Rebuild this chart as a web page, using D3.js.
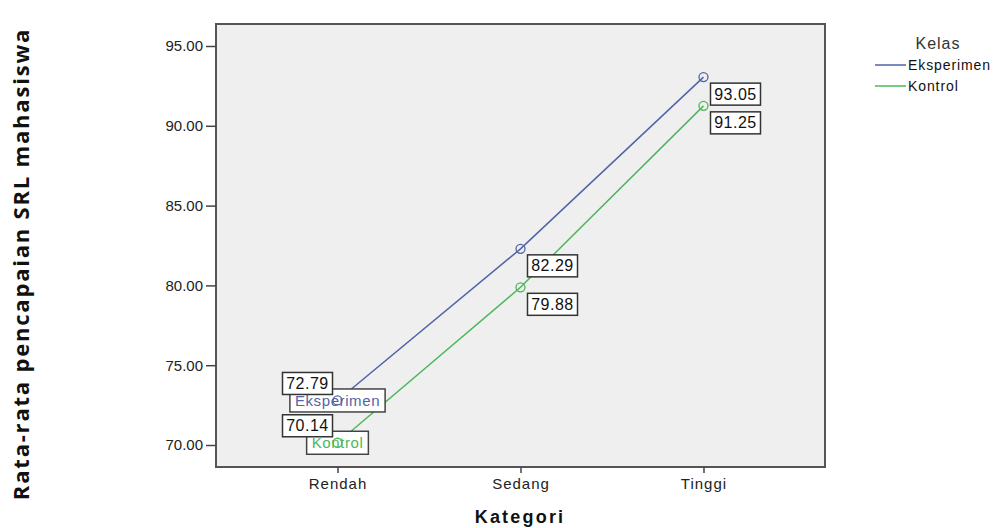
<!DOCTYPE html>
<html><head><meta charset="utf-8">
<script src="https://cdn.jsdelivr.net/npm/d3@7"></script>
<style>body{margin:0;background:#fff}svg{display:block}</style>
</head><body>
<svg id="c" width="1003" height="528"></svg>
<script>
const categories = ["Rendah", "Sedang", "Tinggi"];
const seriesNames = ["Eksperimen", "Kontrol"];
const eksperimen = [72.79, 82.29, 93.05];
const kontrol = [70.14, 79.88, 91.25];
const yTicks = [70, 75, 80, 85, 90, 95];
const colors = ["#5264a6", "#4cb85a"];

const svg = d3.select("#c");
const L = 216, R = 825, T = 24, B = 467;
const x = d3.scalePoint().domain(categories).range([L, R]).padding(0.664);
const y = d3.scaleLinear().domain([70, 95]).range([445, 46]);
const font = "'Liberation Sans', Arial, sans-serif";

svg.append("rect").attr("x", L).attr("y", T).attr("width", R - L).attr("height", B - T)
  .attr("fill", "#efefef").attr("stroke", "#555").attr("stroke-width", 2);

// y axis
const ya = svg.append("g").attr("transform", `translate(${L},0)`)
  .call(d3.axisLeft(y).tickValues(yTicks).tickFormat(d3.format(".2f")).tickSize(10).tickPadding(3));
ya.select(".domain").remove();
ya.selectAll("line").attr("stroke", "#444").attr("stroke-width", 1.5);
ya.selectAll("text").attr("font-family", font).attr("font-size", 15).attr("fill", "#222");

// x axis
const xa = svg.append("g").attr("transform", `translate(0,${B})`)
  .call(d3.axisBottom(x).tickSize(6).tickPadding(5));
xa.select(".domain").remove();
xa.selectAll("line").attr("stroke", "#444").attr("stroke-width", 1.5);
xa.selectAll("text").attr("font-family", font).attr("font-size", 15).attr("letter-spacing", 1).attr("fill", "#222");

// lines
const allSeries = [eksperimen, kontrol];
const line = d3.line().x((d, i) => x(categories[i])).y(d => y(d));
allSeries.forEach((s, k) => {
  svg.append("path").datum(s).attr("d", line).attr("fill", "none")
    .attr("stroke", colors[k]).attr("stroke-width", 1.5);
});

// line labels at first category
allSeries.forEach((s, k) => {
  const cx = x(categories[0]), cy = y(s[0]);
  const g = svg.append("g");
  const t = g.append("text").attr("x", cx).attr("y", cy + 5.5).attr("text-anchor", "middle")
    .attr("font-family", font).attr("font-size", 15).attr("letter-spacing", 0.6)
    .attr("fill", colors[k]).text(seriesNames[k]);
  const bb = t.node().getBBox();
  g.insert("rect", "text").attr("x", bb.x - 5).attr("y", cy - 11.5).attr("width", bb.width + 10).attr("height", 23)
    .attr("fill", "#fff").attr("stroke", "#444").attr("stroke-width", 1.5);
});

// markers
allSeries.forEach((s, k) => {
  svg.selectAll(null).data(s).enter().append("circle")
    .attr("cx", (d, i) => x(categories[i])).attr("cy", d => y(d)).attr("r", 4.5)
    .attr("fill", "none").attr("stroke", colors[k]).attr("stroke-width", 1.3);
});

// value labels
allSeries.forEach((s, k) => {
  s.forEach((v, i) => {
    const px = x(categories[i]), py = y(v);
    const w = 50, h = 22;
    let bx, by;
    if (i === 0) { bx = px - 5 - w; by = py - 6 - h; }
    else { bx = px + 7; by = py + 6; }
    svg.append("rect").attr("x", bx).attr("y", by).attr("width", w).attr("height", h)
      .attr("fill", "#fff").attr("stroke", "#333").attr("stroke-width", 1.5);
    svg.append("text").attr("x", bx + w / 2).attr("y", by + h / 2 + 5.5).attr("text-anchor", "middle")
      .attr("font-family", font).attr("font-size", 16).attr("letter-spacing", 0.5).attr("fill", "#111")
      .text(v.toFixed(2));
  });
});

// axis titles
svg.append("text").attr("x", 520).attr("y", 523).attr("text-anchor", "middle")
  .attr("font-family", font).attr("font-weight", "bold").attr("font-size", 18).attr("letter-spacing", 2.2)
  .attr("fill", "#111").text("Kategori");
svg.append("text").attr("transform", "translate(29,264) rotate(-90)").attr("text-anchor", "middle")
  .attr("font-family", "'Open Sans', sans-serif").attr("font-weight", "bold").attr("font-size", 22)
  .attr("letter-spacing", 1.8).attr("fill", "#111").text("Rata-rata pencapaian SRL mahasiswa");

// legend
svg.append("text").attr("x", 938).attr("y", 49).attr("text-anchor", "middle")
  .attr("font-family", font).attr("font-size", 16).attr("letter-spacing", 1).attr("fill", "#333").text("Kelas");
seriesNames.forEach((n, k) => {
  const ly = 65 + k * 21;
  svg.append("line").attr("x1", 875).attr("x2", 906).attr("y1", ly).attr("y2", ly)
    .attr("stroke", colors[k]).attr("stroke-width", 1.5);
  svg.append("text").attr("x", 908).attr("y", ly + 5).attr("font-family", font).attr("font-size", 14)
    .attr("letter-spacing", 0.9).attr("fill", "#111").text(n);
});
</script>
</body></html>
